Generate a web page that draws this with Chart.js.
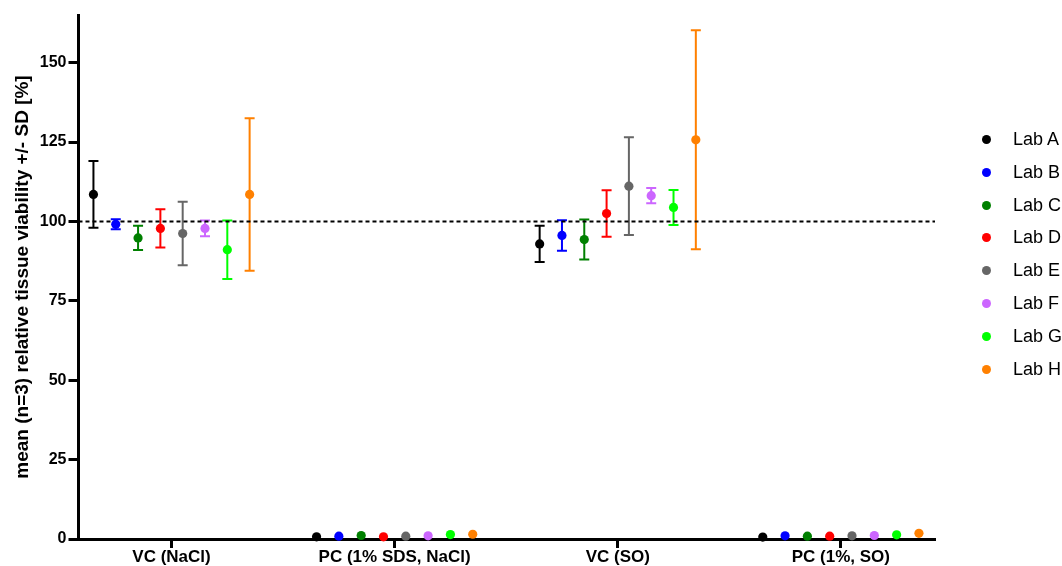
<!DOCTYPE html>
<html>
<head>
<meta charset="utf-8">
<script src="https://cdn.jsdelivr.net/npm/chart.js@4"></script>
<style>
    body { margin: 0; background: #fff; }
    #wrap { position: relative; width: 1062px; height: 566px; overflow: hidden; }
    #legend { position: absolute; left: 980px; top: 128px; font-family: "Liberation Sans", Arial, sans-serif; font-size: 18px; color: #000; }
    .item { position: relative; height: 32.8px; line-height: 22px; white-space: nowrap; padding-left: 33px; }
    .dot { position: absolute; left: 1.5px; top: 7px; width: 9px; height: 9px; border-radius: 50%; }
</style>
</head>
<body>
<div id="wrap">
    <canvas id="grafica" width="1062" height="566"></canvas>
    <div id="legend"></div>
</div>
<script>
// datos
let grupos = ["VC (NaCl)", "PC (1% SDS, NaCl)", "VC (SO)", "PC (1%, SO)"]
let labs = ["Lab A", "Lab B", "Lab C", "Lab D", "Lab E", "Lab F", "Lab G", "Lab H"]
let colores = ["#000000", "#0000ff", "#008000", "#ff0000", "#666666", "#cc66ff", "#00ff00", "#ff8000"]
let ticksY = [0, 25, 50, 75, 100, 125, 150]
let referencia = 100

// media por grupo (VC NaCl, PC NaCl, VC SO, PC SO)
let mediaA = [108.5, 0.7, 92.9, 0.6]
let mediaB = [99.1, 0.9, 95.6, 1.0]
let mediaC = [94.8, 1.1, 94.3, 0.9]
let mediaD = [97.8, 0.7, 102.5, 0.9]
let mediaE = [96.2, 0.9, 111.1, 1.0]
let mediaF = [97.8, 1.0, 108.1, 1.1]
let mediaG = [91.1, 1.4, 104.4, 1.3]
let mediaH = [108.5, 1.5, 125.7, 1.8]

// desviacion estandar
let sdA = [10.5, 0, 5.7, 0]
let sdB = [1.6, 0, 4.8, 0]
let sdC = [3.8, 0, 6.3, 0]
let sdD = [6.0, 0, 7.3, 0]
let sdE = [10.0, 0, 15.4, 0]
let sdF = [2.5, 0, 2.4, 0]
let sdG = [9.2, 0, 5.5, 0]
let sdH = [24.0, 0, 34.5, 0]

let medias = [mediaA, mediaB, mediaC, mediaD, mediaE, mediaF, mediaG, mediaH]
let sds = [sdA, sdB, sdC, sdD, sdE, sdF, sdG, sdH]

let xMin = -0.417
let xMax = 3.422
let radio = 4.6

// barras de error dibujadas con las escalas del grafico
const barrasError = {
    id: "barrasError",
    beforeDatasetsDraw(chart) {
        const ctx = chart.ctx
        const x = chart.scales.x
        const y = chart.scales.y
        chart.data.datasets.forEach(function (ds) {
            if (!ds.sd) return
            ctx.save()
            ctx.strokeStyle = ds.backgroundColor
            ctx.lineWidth = 2
            ds.data.forEach(function (p, k) {
                const px = x.getPixelForValue(p.x)
                const arriba = y.getPixelForValue(p.y + ds.sd[k])
                const abajo = y.getPixelForValue(p.y - ds.sd[k])
                if (abajo - arriba < radio * 2) return
                ctx.beginPath()
                ctx.moveTo(px, arriba)
                ctx.lineTo(px, abajo)
                ctx.moveTo(px - 5, arriba)
                ctx.lineTo(px + 5, arriba)
                ctx.moveTo(px - 5, abajo)
                ctx.lineTo(px + 5, abajo)
                ctx.stroke()
            })
            ctx.restore()
        })
    }
}

let datasets = labs.map(function (lab, j) {
    return {
        type: "scatter",
        label: lab,
        data: medias[j].map(function (v, g) { return { x: g + (j - 3.5) * 0.1, y: v } }),
        sd: sds[j],
        backgroundColor: colores[j],
        borderColor: colores[j],
        pointRadius: radio,
        pointHoverRadius: radio,
        borderWidth: 0,
        clip: false,
        order: 1
    }
})

datasets.push({
    type: "line",
    label: "ref",
    data: [{ x: xMin, y: referencia }, { x: xMax, y: referencia }],
    borderColor: "#000000",
    borderWidth: 2,
    borderDash: [4, 3],
    pointRadius: 0,
    fill: false,
    order: 5
})

var ctx = document.getElementById("grafica").getContext("2d")
var grafica = new Chart(ctx, {
    type: "scatter",
    data: { datasets: datasets },
    plugins: [barrasError],
    options: {
        responsive: false,
        animation: false,
        layout: {
            padding: { top: 15, right: 127, bottom: 0, left: 7 }
        },
        scales: {
            x: {
                type: "linear",
                min: xMin,
                max: xMax,
                afterBuildTicks: function (scale) {
                    scale.ticks = grupos.map(function (g, i) { return { value: i } })
                },
                ticks: {
                    callback: function (value) { return grupos[value] },
                    color: "#000",
                    font: { family: "Liberation Sans", size: 17, weight: "bold", lineHeight: 1 },
                    padding: 0.5,
                    maxRotation: 0,
                    autoSkip: false
                },
                grid: {
                    drawOnChartArea: false,
                    tickLength: 9,
                    tickWidth: 3,
                    tickColor: "#000"
                },
                border: { color: "#000", width: 3 }
            },
            y: {
                min: 0,
                max: 165,
                afterBuildTicks: function (scale) {
                    scale.ticks = ticksY.map(function (v) { return { value: v } })
                },
                ticks: {
                    color: "#000",
                    font: { family: "Liberation Sans", size: 16, weight: "bold" },
                    padding: 2
                },
                grid: {
                    drawOnChartArea: false,
                    tickLength: 10,
                    tickWidth: 3,
                    tickColor: "#000"
                },
                border: { color: "#000", width: 3 },
                title: {
                    display: true,
                    text: "mean (n=3) relative tissue viability +/- SD [%]",
                    color: "#000",
                    font: { family: "Liberation Sans", size: 19, weight: "bold" },
                    padding: { top: 4, bottom: 4 }
                }
            }
        },
        plugins: {
            legend: { display: false },
            tooltip: { enabled: false }
        }
    }
})

// leyenda
let leyenda = document.getElementById("legend")
for (let i = 0; i < labs.length; i++) {
    let item = document.createElement("div")
    item.className = "item"
    let dot = document.createElement("span")
    dot.className = "dot"
    dot.style.background = colores[i]
    item.appendChild(dot)
    item.appendChild(document.createTextNode(labs[i]))
    leyenda.appendChild(item)
}
</script>
</body>
</html>
